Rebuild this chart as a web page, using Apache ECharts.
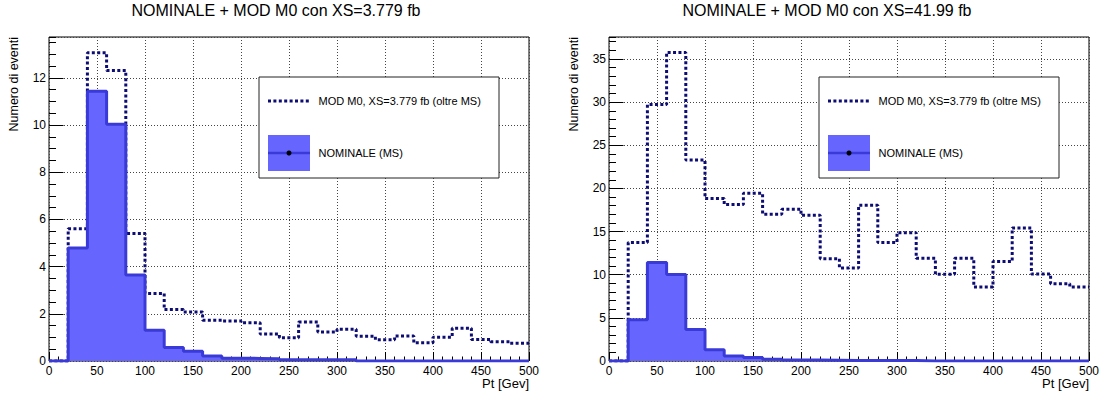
<!DOCTYPE html>
<html>
<head>
<meta charset="utf-8">
<script src="https://cdn.jsdelivr.net/npm/echarts@6/dist/echarts.min.js"></script>
<style>
html,body{margin:0;padding:0;background:#fff;}
#chart{width:1102px;height:397px;}
</style>
</head>
<body>
<div id="chart"></div>
<script>
// ---------------- data ----------------
const binEdges = [0,20,40,60,80,100,120,140,160,180,200,220,240,260,280,300,320,340,360,380,400,420,440,460,480,500];
const nominal = [0,4.79,11.43,10.03,3.64,1.30,0.57,0.41,0.21,0.12,0.11,0.10,0.05,0.05,0.05,0.05,0,0,0,0,0,0,0,0,0];
const modM0Left = [0,5.60,13.06,12.31,5.40,2.86,2.18,2.08,1.73,1.69,1.62,1.14,0.98,1.65,1.23,1.35,1.05,0.90,1.06,0.77,1.01,1.39,0.91,0.82,0.75];
const modM0Right = [0,13.73,29.72,35.76,23.29,18.83,18.13,19.43,17.02,17.59,16.90,11.86,10.78,18.05,13.72,14.87,11.90,10.04,11.90,8.57,11.52,15.42,10.08,8.96,8.57];
const panelTitles = ['NOMINALE + MOD M0 con XS=3.779 fb', 'NOMINALE + MOD M0 con XS=41.99 fb'];
const legendLabels = ['MOD M0, XS=3.779 fb (oltre MS)', 'NOMINALE (MS)'];
const xAxisName = 'Pt [Gev]';
const yAxisName = 'Numero di eventi';
const xRange = [0, 500];
const xMajorStep = 50;
const xMinorStep = 10;
const yMaxes = [13.73, 37.55];
const yMajorSteps = [2, 5];
const yMinorSteps = [0.5, 1];

// ---------------- layout / style ----------------
const FONT = 'Liberation Sans, Arial, Helvetica, sans-serif';
const grids = [
  {left: 49, top: 37, width: 480, height: 324},
  {left: 609, top: 37, width: 480, height: 324}
];
const titleCenters = [276, 827];
const FILL = '#6666ff';
const EDGE = '#3a3ad8';
const DOT = '#0c0c74';
const GRIDC = '#444';

function stepData(vals) {
  return binEdges.map((x, i) => [x, vals[Math.min(i, vals.length - 1)]]);
}

const xAxes = [], yAxes = [], series = [], graphics = [], titles = [];
const mods = [modM0Left, modM0Right];

grids.forEach((g, p) => {
  const xi = xAxes.length, yi = yAxes.length;
  // major x
  xAxes.push({
    gridIndex: p, type: 'value', position: 'bottom', min: xRange[0], max: xRange[1], interval: xMajorStep,
    axisLine: {show: false},
    axisTick: {show: true, inside: true, length: 9, lineStyle: {color: '#000', width: 1}},
    axisLabel: {show: true, margin: 4, fontSize: 12, color: '#000', fontFamily: FONT, showMinLabel: true, showMaxLabel: true, hideOverlap: false},
    splitLine: {show: true, lineStyle: {color: GRIDC, width: 1, type: [1, 2]}}
  });
  // minor x
  xAxes.push({
    gridIndex: p, type: 'value', position: 'bottom', min: xRange[0], max: xRange[1], interval: xMinorStep,
    axisLine: {show: false},
    axisTick: {show: true, inside: true, length: 4.5, lineStyle: {color: '#000', width: 1}},
    axisLabel: {show: false}, splitLine: {show: false}
  });
  // major y
  yAxes.push({
    gridIndex: p, type: 'value', position: 'left', min: 0, max: yMaxes[p], interval: yMajorSteps[p],
    axisLine: {show: false},
    axisTick: {show: true, inside: true, length: 14.5, lineStyle: {color: '#000', width: 1}},
    axisLabel: {show: true, margin: 3, fontSize: 12, color: '#000', fontFamily: FONT, showMinLabel: true, showMaxLabel: false, hideOverlap: false},
    splitLine: {show: true, lineStyle: {color: GRIDC, width: 1, type: [1, 2]}}
  });
  // minor y
  yAxes.push({
    gridIndex: p, type: 'value', position: 'left', min: 0, max: yMaxes[p], interval: yMinorSteps[p],
    axisLine: {show: false},
    axisTick: {show: true, inside: true, length: 7, lineStyle: {color: '#000', width: 1}},
    axisLabel: {show: false}, splitLine: {show: false}
  });

  series.push({
    name: legendLabels[0], type: 'line', step: 'end', xAxisIndex: xi, yAxisIndex: yi,
    data: stepData(mods[p]), symbol: 'none', z: 2, silent: true,
    lineStyle: {color: DOT, width: 3, type: [3, 2.4]}
  });
  series.push({
    name: legendLabels[1], type: 'line', step: 'end', xAxisIndex: xi, yAxisIndex: yi,
    data: stepData(nominal), symbol: 'none', z: 3, silent: true,
    lineStyle: {color: EDGE, width: 3},
    areaStyle: {color: FILL, opacity: 1}
  });

  titles.push({
    text: panelTitles[p], left: titleCenters[p], top: 2, padding: 0, textAlign: 'center',
    textStyle: {fontSize: 16, fontWeight: 'normal', color: '#000', fontFamily: FONT}
  });

  // axis names
  graphics.push({
    type: 'text', x: g.left + g.width, y: 376.5, z: 10,
    style: {text: xAxisName, fontSize: 13, fontFamily: FONT, fill: '#000', align: 'right', verticalAlign: 'top'}
  });
  graphics.push({
    type: 'text', x: g.left - 35.5, y: g.top, rotation: Math.PI / 2, z: 10,
    style: {text: yAxisName, fontSize: 12.5, fontFamily: FONT, fill: '#000', align: 'right', verticalAlign: 'middle'}
  });

  // legend box
  const lx = g.left + 210, ly = 77;
  graphics.push({type: 'rect', z: 20, shape: {x: lx, y: ly, width: 240, height: 101},
    style: {fill: '#fff', stroke: '#222', lineWidth: 1}});
  graphics.push({type: 'line', z: 21, shape: {x1: lx + 9, y1: ly + 24, x2: lx + 52, y2: ly + 24},
    style: {stroke: DOT, lineWidth: 3, lineDash: [3, 2.4]}});
  graphics.push({type: 'text', z: 21, x: lx + 59.5, y: ly + 24,
    style: {text: legendLabels[0], fontSize: 11, fontFamily: FONT, fill: '#000', align: 'left', verticalAlign: 'middle'}});
  graphics.push({type: 'rect', z: 21, shape: {x: lx + 9, y: ly + 58, width: 42, height: 36},
    style: {fill: FILL}});
  graphics.push({type: 'line', z: 22, shape: {x1: lx + 9, y1: ly + 76, x2: lx + 51, y2: ly + 76},
    style: {stroke: EDGE, lineWidth: 2.5}});
  graphics.push({type: 'circle', z: 23, shape: {cx: lx + 30, cy: ly + 76, r: 2.5},
    style: {fill: '#000'}});
  graphics.push({type: 'text', z: 21, x: lx + 59.5, y: ly + 76,
    style: {text: legendLabels[1], fontSize: 11, fontFamily: FONT, fill: '#000', align: 'left', verticalAlign: 'middle'}});
});

const chart = echarts.init(document.getElementById('chart'), null, {renderer: 'svg'});
chart.setOption({
  animation: false,
  backgroundColor: '#fff',
  title: titles,
  grid: grids.map(g => Object.assign({show: true, borderColor: '#000', borderWidth: 1, backgroundColor: 'transparent', containLabel: false}, g)),
  xAxis: xAxes,
  yAxis: yAxes,
  series: series,
  graphic: graphics
});
</script>
</body>
</html>
